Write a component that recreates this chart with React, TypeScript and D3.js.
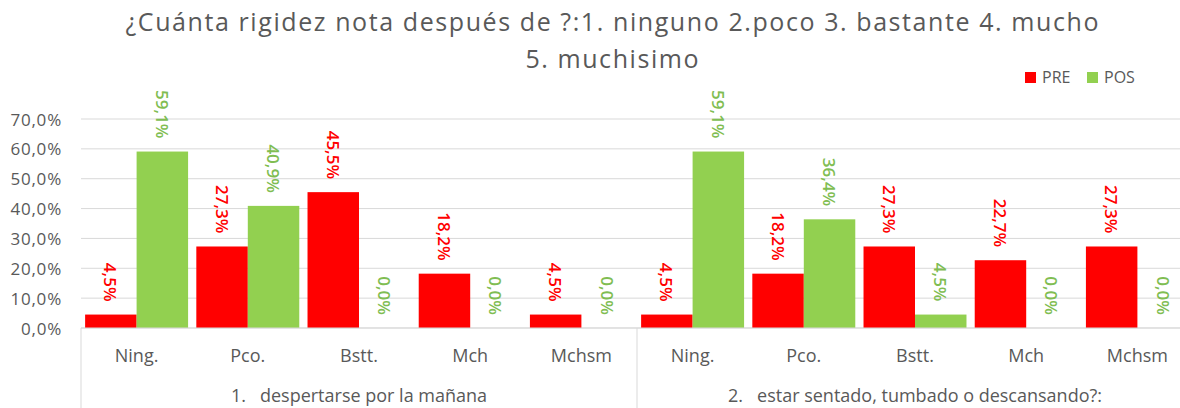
import React from 'react';
import * as d3 from 'd3';

// Two questions, five answer levels each, PRE vs POS share of patients.

const TITLE_LINES = [
  '¿Cuánta rigidez nota después de ?:1. ninguno 2.poco 3. bastante 4. mucho',
  '5. muchisimo',
];
const TITLE_WIDTHS = [973, 173];

const GROUPS = [
  '1.   despertarse por la mañana',
  '2.   estar sentado, tumbado o descansando?:',
];
const CATEGORIES = ['Ning.', 'Pco.', 'Bstt.', 'Mch', 'Mchsm'];
const SERIES = ['PRE', 'POS'];

const PRE_1 = [4.5, 27.3, 45.5, 18.2, 4.5];
const POS_1 = [59.1, 40.9, 0.0, 0.0, 0.0];
const PRE_2 = [4.5, 18.2, 27.3, 22.7, 27.3];
const POS_2 = [59.1, 36.4, 4.5, 0.0, 0.0];

const Y_TICKS = [0, 10, 20, 30, 40, 50, 60, 70];

const COLORS: Record<string, string> = { PRE: '#FF0000', POS: '#92D050' };
const LABEL_COLORS: Record<string, string> = { PRE: '#FF0000', POS: '#80BD52' };

const W = 1180;
const H = 408;
const PLOT_LEFT = 81;
const PLOT_RIGHT = 1193;
const PLOT_TOP = 119;
const PLOT_BOTTOM = 328;
const TEXT = '#595959';
const GRID = '#D9D9D9';
const FONT = '"Open Sans", "Noto Sans", sans-serif';

const fmt = (v: number) => `${v.toFixed(1).replace('.', ',')}%`;

export default function App() {
  const values: Record<string, number[][]> = {
    PRE: [PRE_1, PRE_2],
    POS: [POS_1, POS_2],
  };

  const y = d3.scaleLinear().domain([0, 70]).range([PLOT_BOTTOM, PLOT_TOP]);
  const xGroup = d3.scaleBand<string>().domain(GROUPS).range([PLOT_LEFT, PLOT_RIGHT]);
  const xCat = d3.scaleBand<string>().domain(CATEGORIES).range([0, xGroup.bandwidth()]);
  const xSeries = d3
    .scaleBand<string>()
    .domain(SERIES)
    .range([0, xCat.bandwidth()])
    .paddingOuter(0.08);

  return (
    <svg
      width={W}
      height={H}
      style={{ position: 'absolute', left: 0, top: 0, background: '#fff' }}
      fontFamily={FONT}
    >
      {/* Title */}
      {TITLE_LINES.map((t, i) => (
        <text
          key={t}
          x={612}
          y={31 + i * 37}
          textAnchor="middle"
          fontSize={25}
          textLength={TITLE_WIDTHS[i]}
          lengthAdjust="spacing"
          fill={TEXT}
        >
          {t}
        </text>
      ))}

      {/* Legend */}
      {SERIES.map((s, i) => {
        const lx = 1025 + i * 62;
        return (
          <g key={`leg-${s}`}>
            <rect x={lx} y={72} width={11} height={11} fill={COLORS[s]} />
            <text x={lx + 17} y={83} fontSize={16} fill={TEXT}>
              {s}
            </text>
          </g>
        );
      })}

      {/* Gridlines + y ticks */}
      {Y_TICKS.map((t) => (
        <g key={`y-${t}`}>
          <line x1={PLOT_LEFT} x2={PLOT_RIGHT} y1={y(t)} y2={y(t)} stroke={GRID} strokeWidth={1} />
          <text
            x={62}
            y={y(t)}
            textAnchor="end"
            dominantBaseline="central"
            fontSize={17}
            letterSpacing={0.8}
            fill={TEXT}
          >
            {fmt(t)}
          </text>
        </g>
      ))}

      {/* Group separators below axis */}
      {[...GROUPS.map((g) => xGroup(g) ?? 0), PLOT_RIGHT].map((gx, i) => (
        <line key={`sep-${i}`} x1={gx} x2={gx} y1={PLOT_BOTTOM} y2={H} stroke={GRID} strokeWidth={1} />
      ))}

      {GROUPS.map((g, gi) => {
        const gx = xGroup(g) ?? 0;
        return (
          <g key={`grp-${gi}`} transform={`translate(${gx},0)`}>
            {CATEGORIES.map((c, ci) => {
              const cx = xCat(c) ?? 0;
              return (
                <g key={`cat-${ci}`} transform={`translate(${cx},0)`}>
                  {SERIES.map((s) => {
                    const v = values[s][gi][ci];
                    const bx = xSeries(s) ?? 0;
                    const bw = xSeries.bandwidth();
                    const top = y(v);
                    const lx = bx + bw / 2;
                    const ly = top - 13;
                    return (
                      <g key={`bar-${s}`}>
                        {v > 0 && (
                          <rect x={bx} y={top} width={bw} height={PLOT_BOTTOM - top} fill={COLORS[s]} />
                        )}
                        <text
                          x={lx}
                          y={ly}
                          transform={`rotate(90, ${lx}, ${ly})`}
                          textAnchor="end"
                          dominantBaseline="central"
                          fontSize={17}
                          fontWeight={600}
                          fill={LABEL_COLORS[s]}
                        >
                          {fmt(v)}
                        </text>
                      </g>
                    );
                  })}
                  <text
                    x={xCat.bandwidth() / 2}
                    y={362}
                    textAnchor="middle"
                    fontSize={18}
                    fill={TEXT}
                  >
                    {c}
                  </text>
                </g>
              );
            })}
            <text
              x={xGroup.bandwidth() / 2}
              y={402}
              textAnchor="middle"
              fontSize={18}
              fill={TEXT}
              style={{ whiteSpace: 'pre' }}
            >
              {g}
            </text>
          </g>
        );
      })}

      {/* Bottom axis line */}
      <line x1={PLOT_LEFT} x2={PLOT_RIGHT} y1={PLOT_BOTTOM} y2={PLOT_BOTTOM} stroke={GRID} strokeWidth={1} />
    </svg>
  );
}
